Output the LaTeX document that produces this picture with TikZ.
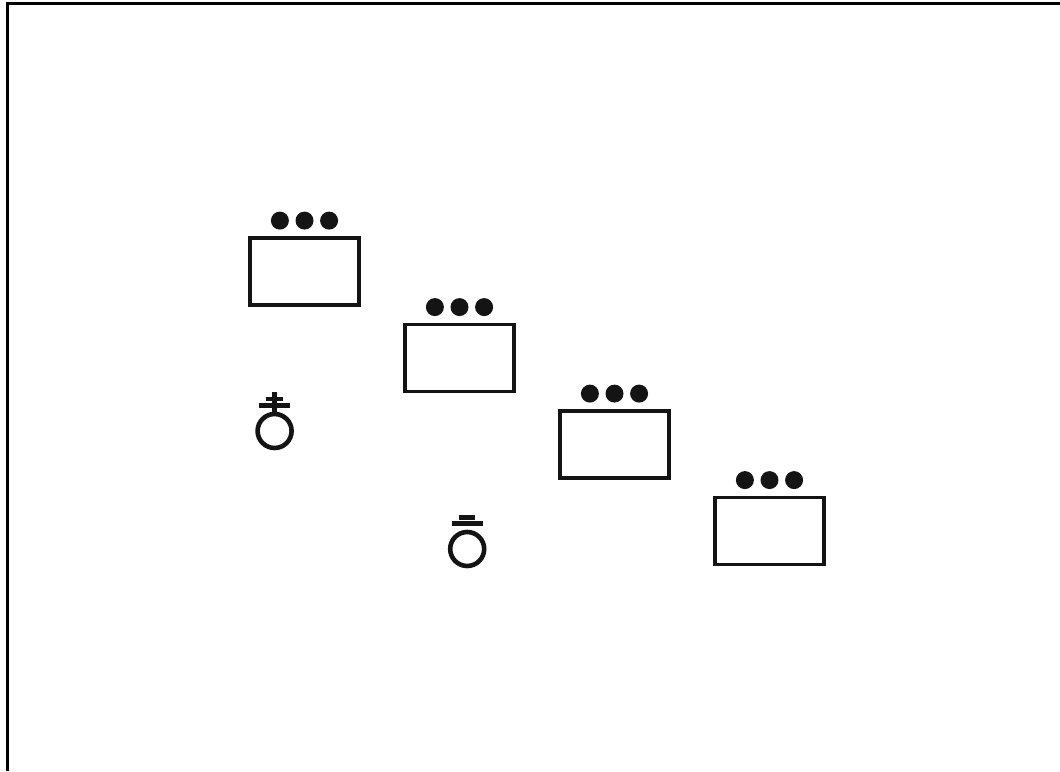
\documentclass[tikz,border=0pt]{standalone}
\usepackage{xcolor}
\definecolor{myink}{RGB}{20,20,20}
\usepackage{tikz}
\usetikzlibrary{positioning}

\begin{document}
\begin{tikzpicture}[
  slot/.style={rectangle, draw=myink, line width=0.08cm, outer sep=0pt,
               minimum width=2.725cm, minimum height=1.675cm},
  dot/.style={circle, fill=myink, inner sep=0pt, outer sep=0pt, minimum size=0.45cm},
  ring/.style={circle, draw=myink, line width=0.115cm, inner sep=0pt, outer sep=0pt,
               minimum size=0.85cm},
  longbar/.style={rectangle, fill=myink, inner sep=0pt, outer sep=0pt,
                  minimum width=0.77cm, minimum height=0.12cm},
  shortbar/.style={rectangle, fill=myink, inner sep=0pt, outer sep=0pt,
                   minimum width=0.41cm, minimum height=0.12cm},
  stem/.style={line width=0.11cm, draw=myink}
]
  \useasboundingbox (0,0) rectangle (26.5,19.275);
  % Frame: left and top edges only
  \draw[line width=0.09cm] (0.1875,0) |- (26.5,19.19);
  % Boxes, stepping down to the right
  \node[slot] (b1) at (7.6125,12.4875) {};
  \node[slot, below right=0.4875cm and 1.15cm of b1.south east, anchor=north west] (b2) {};
  \node[slot, below right=0.4875cm and 1.15cm of b2.south east, anchor=north west] (b3) {};
  \node[slot, below right=0.4875cm and 1.15cm of b3.south east, anchor=north west] (b4) {};
  % Three dots over each box
  \node[dot, above=0.21cm of b1] (d1b) {};
  \node[dot, left=0.165cm of d1b] (d1a) {};
  \node[dot, right=0.165cm of d1b] (d1c) {};
  \node[dot, above=0.21cm of b2] (d2b) {};
  \node[dot, left=0.165cm of d2b] (d2a) {};
  \node[dot, right=0.165cm of d2b] (d2c) {};
  \node[dot, above=0.21cm of b3] (d3b) {};
  \node[dot, left=0.165cm of d3b] (d3a) {};
  \node[dot, right=0.165cm of d3b] (d3c) {};
  \node[dot, above=0.21cm of b4] (d4b) {};
  \node[dot, left=0.165cm of d4b] (d4a) {};
  \node[dot, right=0.165cm of d4b] (d4c) {};
  % Symbol with cross
  \node[ring] (r1) at (6.865,8.5) {};
  \node[longbar, above=0.145cm of r1] (lb1) {};
  \node[shortbar, above=0.05cm of lb1] (sb1) {};
  \draw[stem] (r1.north) -- ([yshift=0.11cm]sb1.north);
  % Symbol with two bars
  \node[ring] (r2) at (11.68,5.55) {};
  \node[longbar, above=0.145cm of r2] (lb2) {};
  \node[shortbar, above=0.03cm of lb2] (sb2) {};
\end{tikzpicture}
\end{document}
